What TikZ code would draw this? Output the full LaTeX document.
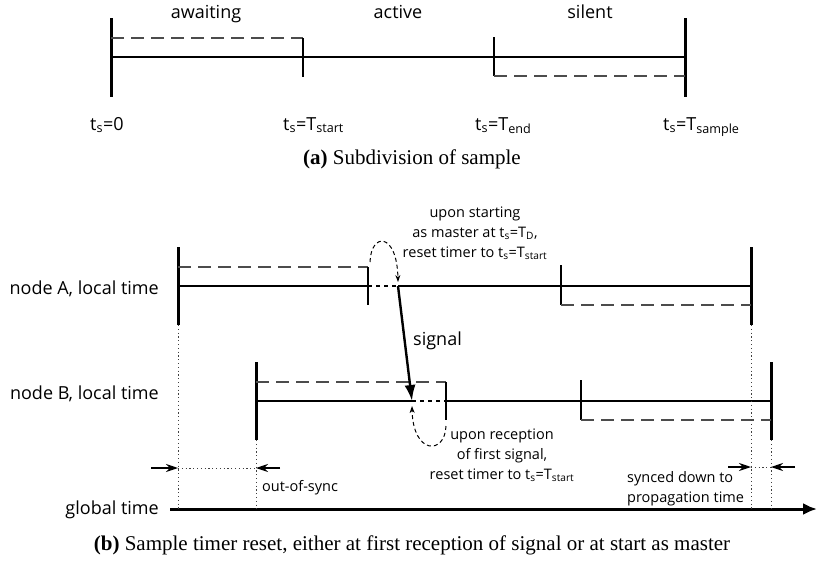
\documentclass[tikz,border=0pt]{standalone}
\usepackage{fontspec}
\setmainfont{Liberation Serif}
\newfontfamily\labelfont{Open Sans}
\usetikzlibrary{arrows.meta}

% subscript used in the timer labels
\newcommand\tsub[1]{\textsubscript{#1}}

\begin{document}
\begin{tikzpicture}[x=1pt,y=-1pt,
  axisline/.style={line width=1.6pt},
  bar/.style={line width=3pt},
  tickline/.style={line width=1.3pt},
  phase/.style={draw=black!70, line width=1.1pt, dash pattern=on 13pt off 7pt},
  gapline/.style={line width=1.6pt, dash pattern=on 4pt off 4pt},
  guide/.style={draw=black!75, line width=0.8pt, dash pattern=on 1.2pt off 2.6pt},
  resetarrow/.style={line width=1pt, dash pattern=on 4pt off 3pt, -{Stealth[length=7pt,width=5pt]}},
  signalarrow/.style={line width=2.4pt, -{Latex[length=16pt,width=11pt]}},
  spanarrow/.style={line width=1.2pt, -{Stealth[length=12pt,width=8pt]}},
  timeaxis/.style={line width=3pt, -{Latex[length=14pt,width=12pt]}},
  lbl/.style={font=\labelfont\fontsize{18}{22}\selectfont, inner sep=0pt},
  note/.style={font=\labelfont\fontsize{14.5}{20}\selectfont, inner sep=0pt},
  captiontext/.style={font=\fontsize{21}{25}\selectfont, inner sep=0pt}
]
\useasboundingbox (0,0) rectangle (817,570);

% ---------- (a) subdivision of one sample ----------
\coordinate (s0) at (111,57);
\coordinate (s1) at (303,57);
\coordinate (s2) at (494,57);
\coordinate (s3) at (685,57);
\draw[axisline] (s0) -- (s3);
\draw[bar] ([yshift=39pt]s0) -- ([yshift=-40pt]s0);
\draw[bar] ([yshift=39pt]s3) -- ([yshift=-40pt]s3);
\draw[phase] ([yshift=19pt]s0) -- ([yshift=19pt]s1);
\draw[tickline] ([yshift=19pt]s1) -- ([yshift=-20pt]s1);
\draw[tickline] ([yshift=20pt]s2) -- ([yshift=-19pt]s2);
\draw[phase] ([yshift=-19pt]s2) -- ([yshift=-19pt]s3);

\node[lbl, anchor=base] (awaiting) at (206,18) {awaiting};
\node[lbl, anchor=base] (active)   at (398,18) {active};
\node[lbl, anchor=base] (silent)   at (590,18) {silent};

\node[lbl, anchor=base west] (t0)   at (90,130)  {t\tsub{s}=0};
\node[lbl, anchor=base west] (tst)  at (283,130) {t\tsub{s}=T\tsub{start}};
\node[lbl, anchor=base west] (tend) at (475,130) {t\tsub{s}=T\tsub{end}};
\node[lbl, anchor=base west] (tsam) at (663,130) {t\tsub{s}=T\tsub{sample}};

\node[captiontext, anchor=base] (capa) at (412,164) {\textbf{(a)} Subdivision of sample};

% ---------- (b) node A ----------
\coordinate (a0) at (178,286);
\coordinate (a1) at (368,286);
\coordinate (ar) at (398,286);
\coordinate (a2) at (561,286);
\coordinate (a3) at (751,286);
\draw[axisline] (a0) -- (a1);
\draw[gapline]  (a1) -- (ar);
\draw[axisline] (ar) -- (a3);
\draw[bar] ([yshift=39pt]a0) -- ([yshift=-39pt]a0) coordinate (a0b);
\draw[bar] ([yshift=39pt]a3) -- ([yshift=-39pt]a3) coordinate (a3b);
\draw[phase] ([yshift=19pt]a0) -- ([yshift=19pt]a1);
\draw[tickline] ([yshift=19pt]a1) -- ([yshift=-19pt]a1);
\draw[tickline] ([yshift=21pt]a2) -- ([yshift=-19pt]a2);
\draw[phase] ([yshift=-19pt]a2) -- ([yshift=-19pt]a3);

\node[lbl, anchor=base east] (nodeA) at (159,294) {node A, local time};

% ---------- (b) node B ----------
\coordinate (b0) at (256,401);
\coordinate (br) at (412,401);
\coordinate (b1) at (446,401);
\coordinate (b2) at (581,401);
\coordinate (b3) at (771,401);
\draw[axisline] (b0) -- (br);
\draw[gapline]  (br) -- (b1);
\draw[axisline] (b1) -- (b3);
\draw[bar] ([yshift=39pt]b0) -- ([yshift=-39pt]b0) coordinate (b0b);
\draw[bar] ([yshift=39pt]b3) -- ([yshift=-39pt]b3) coordinate (b3b);
\draw[phase] ([yshift=19pt]b0) -- ([yshift=19pt]b1);
\draw[tickline] ([yshift=19pt]b1) -- ([yshift=-19pt]b1);
\draw[tickline] ([yshift=21pt]b2) -- ([yshift=-19pt]b2);
\draw[phase] ([yshift=-19pt]b2) -- ([yshift=-19pt]b3);

\node[lbl, anchor=base east] (nodeB) at (159,399) {node B, local time};

% ---------- signal and timer resets ----------
\draw[signalarrow] (ar) -- (br);
\node[lbl, anchor=base west] (signal) at (413,345) {signal};

\draw[resetarrow] (370,262) .. controls (371,232) and (397,232) .. ([yshift=4pt]ar);
\node[note, align=center] (startnote) at (475,233)
  {upon starting\\as master at t\tsub{s}=T\tsub{D},\\reset timer to t\tsub{s}=T\tsub{start}};

\draw[resetarrow] (446,426) .. controls (445,455) and (413,455) .. ([yshift=-5pt]br);
\node[note, align=center] (recvnote) at (502,455)
  {upon reception\\of first signal,\\reset timer to t\tsub{s}=T\tsub{start}};

% ---------- global time ----------
\coordinate (g0) at (170,509);
\coordinate (g1) at (817,509);
\draw[timeaxis] (g0) -- (g1);
\node[lbl, anchor=base east] (global) at (159,514) {global time};

\draw[guide] (a0b) -- (a0b |- g0);
\draw[guide] (b0b) -- (b0b |- g0);
\draw[guide] (a3b) -- (a3b |- g0);
\draw[guide] (b3b) -- (b3b |- g0);

% out-of-sync span
\coordinate (o0) at (178,468);
\coordinate (o1) at (256,468);
\draw[spanarrow] ([xshift=-27pt]o0) -- (o0);
\draw[guide] (o0) -- (o1);
\draw[spanarrow] ([xshift=24pt]o1) -- (o1);
\node[note, anchor=base west] (oos) at (262,491) {out-of-sync};

% residual propagation span
\coordinate (p0) at (751,467);
\coordinate (p1) at (771,467);
\draw[spanarrow] ([xshift=-23pt]p0) -- (p0);
\draw[guide] (p0) -- (p1);
\draw[spanarrow] ([xshift=24pt]p1) -- (p1);
\node[note, align=left, anchor=west] (sync) at (627,489) {synced down to\\propagation time};

\node[captiontext, anchor=base] (capb) at (412,550)
  {\textbf{(b)} Sample timer reset, either at first reception of signal or at start as master};
\end{tikzpicture}
\end{document}
